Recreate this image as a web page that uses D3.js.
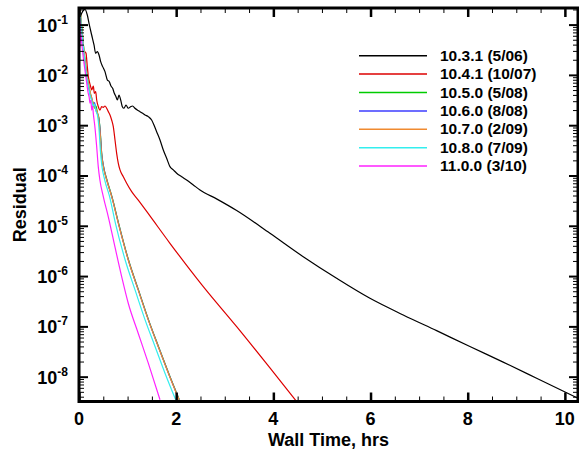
<!DOCTYPE html>
<html>
<head>
<meta charset="utf-8">
<script src="https://cdn.jsdelivr.net/npm/d3@7"></script>
<style>
  html, body { margin: 0; padding: 0; background: #fff; }
  svg { display: block; }
  text { font-family: "Liberation Sans", Arial, sans-serif; font-weight: bold; fill: #000; }
</style>
</head>
<body>
<svg id="chart" width="579" height="453"></svg>
<script>
// ---------------- DATA ----------------
const seriesNames = ["10.3.1 (5/06)", "10.4.1 (10/07)", "10.5.0 (5/08)", "10.6.0 (8/08)", "10.7.0 (2/09)", "10.8.0 (7/09)", "11.0.0 (3/10)"];
const seriesColors = ["#000000", "#dd0000", "#00cc00", "#3c3cff", "#f08a30", "#33eeee", "#ff22ff"];

const xTickValues = [0, 2, 4, 6, 8, 10];
const xMinorValues = [0.5, 1, 1.5, 2.5, 3, 3.5, 4.5, 5, 5.5, 6.5, 7, 7.5, 8.5, 9, 9.5];
const yTickExponents = [-1, -2, -3, -4, -5, -6, -7, -8];

// 10.3.1 (5/06)
const t1031 = [0.03,0.055,0.123,0.171,0.213,0.261,0.309,0.343,0.377,0.412,0.446,0.487,0.535,0.583,0.624,0.658,0.693,0.727,0.761,0.789,0.823,0.858,0.892,0.926,0.967,1.015,1.063,1.104,1.152,1.20,1.255,1.31,1.358,1.427,1.495,1.543,1.598,1.667,1.735,1.804,1.872,1.941,2.01,2.113,2.215,2.353,2.49,2.84,3.245,3.93,4.615,5.302,5.988,6.673,7.36,8.045,8.73,9.418,10.27];
const r1031 = [1.41e-1,1.68e-1,2.01e-1,1.55e-1,9.82e-2,6.21e-2,3.93e-2,2.69e-2,2.90e-2,2.49e-2,1.83e-2,1.46e-2,1.16e-2,7.93e-3,7.33e-3,6.01e-3,5.41e-3,4.31e-3,3.69e-3,3.17e-3,3.98e-3,3.17e-3,2.33e-3,2.17e-3,2.52e-3,2.17e-3,2.33e-3,2.41e-3,2.17e-3,2.00e-3,1.86e-3,1.72e-3,1.60e-3,1.48e-3,1.27e-3,1.01e-3,7.43e-4,5.08e-4,3.21e-4,2.20e-4,1.50e-4,1.29e-4,1.11e-4,9.46e-5,8.15e-5,6.47e-5,5.15e-5,3.39e-5,2.01e-5,7.10e-6,2.43e-6,9.04e-7,3.62e-7,1.69e-7,8.22e-8,3.98e-8,1.95e-8,9.33e-9,3.72e-9];

// 10.4.1 (10/07)
const t1041 = [0.123,0.144,0.171,0.192,0.213,0.24,0.261,0.295,0.315,0.343,0.364,0.398,0.432,0.466,0.50,0.535,0.569,0.603,0.638,0.672,0.706,0.741,0.775,0.809,0.844,0.912,0.981,1.084,1.22,1.46,1.872,2.558,3.245,3.93,4.50];
const r1041 = [2.89e-2,2.69e-2,1.46e-2,9.23e-3,7.33e-3,5.83e-3,5.01e-3,6.01e-3,4.31e-3,4.63e-3,3.17e-3,2.33e-3,2.00e-3,2.33e-3,2.27e-3,2.41e-3,2.17e-3,1.86e-3,1.60e-3,1.27e-3,9.33e-4,5.08e-4,2.76e-4,1.75e-4,1.29e-4,9.46e-5,7.00e-5,4.76e-5,3.24e-5,1.57e-5,4.49e-6,6.17e-7,9.86e-8,1.49e-8,3.02e-9];

// 10.5.0 (5/08)
const t1050 = [0.02,0.05,0.08,0.11,0.14,0.17,0.20,0.23,0.26,0.29,0.32,0.35,0.38,0.41,0.435,0.47,0.505,0.575,0.678,0.815,1.019,1.225,1.431,1.635,1.845,2.065];
const r1050 = [1.91e-1,1.00e-1,5.01e-2,2.51e-2,1.41e-2,8.91e-3,6.03e-3,4.47e-3,3.31e-3,2.82e-3,2.19e-3,2.40e-3,1.74e-3,1.38e-3,7.94e-4,2.51e-4,1.51e-4,8.13e-5,3.80e-5,1.12e-5,2.09e-6,5.25e-7,1.35e-7,3.98e-8,1.17e-8,3.47e-9];

// 10.6.0 (8/08)
const t1060 = [0.02,0.05,0.08,0.11,0.14,0.17,0.20,0.23,0.26,0.29,0.32,0.35,0.38,0.41,0.432,0.468,0.502,0.572,0.675,0.812,1.016,1.222,1.428,1.632,1.842,2.062];
const r1060 = [1.82e-1,8.91e-2,4.79e-2,2.40e-2,1.32e-2,8.32e-3,5.62e-3,4.17e-3,3.55e-3,2.51e-3,2.82e-3,2.00e-3,1.66e-3,1.32e-3,8.32e-4,2.63e-4,1.55e-4,8.13e-5,3.80e-5,1.12e-5,2.09e-6,5.25e-7,1.35e-7,3.98e-8,1.17e-8,3.47e-9];

// 10.7.0 (2/09)
const t1070 = [0.02,0.05,0.08,0.11,0.14,0.17,0.20,0.23,0.26,0.29,0.32,0.35,0.38,0.40,0.43,0.467,0.50,0.57,0.673,0.81,1.014,1.22,1.426,1.63,1.84,2.06];
const r1070 = [2.00e-1,1.05e-1,5.25e-2,2.63e-2,1.45e-2,9.12e-3,6.31e-3,4.57e-3,3.47e-3,2.75e-3,2.29e-3,2.09e-3,1.78e-3,1.48e-3,7.94e-4,2.51e-4,1.51e-4,8.13e-5,3.80e-5,1.12e-5,2.09e-6,5.25e-7,1.35e-7,3.98e-8,1.17e-8,3.47e-9];

// 10.8.0 (7/09)
const t1080 = [0.02,0.05,0.08,0.11,0.14,0.17,0.20,0.23,0.26,0.29,0.32,0.35,0.38,0.41,0.44,0.47,0.53,0.63,0.75,0.95,1.155,1.36,1.565,1.77,1.99];
const r1080 = [1.78e-1,8.91e-2,4.47e-2,2.24e-2,1.26e-2,7.94e-3,5.62e-3,3.80e-3,3.16e-3,2.40e-3,2.63e-3,1.91e-3,1.58e-3,8.91e-4,3.16e-4,1.58e-4,8.13e-5,3.80e-5,1.12e-5,2.09e-6,5.25e-7,1.35e-7,3.98e-8,1.17e-8,3.47e-9];

// 11.0.0 (3/10)
const t1100 = [0.005,0.01,0.015,0.02,0.025,0.03,0.04,0.06,0.10,0.145,0.185,0.21,0.226,0.245,0.26,0.28,0.294,0.33,0.364,0.397,0.43,0.50,0.603,0.74,0.878,1.014,1.22,1.426,1.667];
const r1100 = [2.00e-1,5.01e-2,1.41e-1,3.55e-2,1.12e-1,4.47e-2,6.31e-2,3.89e-2,1.82e-2,8.71e-3,4.57e-3,3.55e-3,2.75e-3,3.16e-3,2.00e-3,2.40e-3,1.74e-3,8.71e-4,3.72e-4,1.48e-4,8.13e-5,3.80e-5,1.51e-5,3.80e-6,9.77e-7,2.88e-7,7.24e-8,1.86e-8,3.47e-9];

const seriesTimes = [t1031, t1041, t1050, t1060, t1070, t1080, t1100];
const seriesResiduals = [r1031, r1041, r1050, r1060, r1070, r1080, r1100];

// ---------------- CHART ----------------
const svg = d3.select("#chart");
const pLeft = 79, pRight = 578, pTop = 8, pBottom = 401.5;

const x = d3.scaleLinear().domain([0, 10.27]).range([pLeft, pRight]);
const y = d3.scaleLog().domain([0.2138, 3.21e-9]).range([pTop, pBottom]);

svg.append("clipPath").attr("id", "plotclip")
  .append("rect").attr("x", pLeft).attr("y", pTop).attr("width", pRight - pLeft).attr("height", pBottom - pTop);

const line = d3.line().x(d => x(d[0])).y(d => y(d[1])).curve(d3.curveMonotoneX);

const gLines = svg.append("g").attr("clip-path", "url(#plotclip)");
seriesNames.forEach((name, i) => {
  const pts = seriesTimes[i].map((t, k) => [t, seriesResiduals[i][k]]);
  gLines.append("path")
    .datum(pts)
    .attr("fill", "none")
    .attr("stroke", seriesColors[i])
    .attr("stroke-width", 1.2)
    .attr("stroke-linejoin", "round")
    .attr("d", line);
});

// minor y values
const yMajor = yTickExponents.map(e => Math.pow(10, e));
const yMinor = [];
for (let e = -9; e <= -1; e++) {
  for (let m = 2; m <= 9; m++) {
    const v = m * Math.pow(10, e);
    if (v <= 0.2138 && v >= 3.21e-9) yMinor.push(v);
  }
}

function styleAxis(g, w) {
  g.select(".domain").remove();
  g.selectAll(".tick line").attr("stroke", "#000").attr("stroke-width", w);
  g.selectAll(".tick text").remove();
}

// Left axis ticks (inward)
svg.append("g").attr("transform", `translate(${pLeft},0)`)
  .call(d3.axisLeft(y).tickValues(yMinor).tickSize(-5).tickFormat(""))
  .call(g => styleAxis(g, 1));
svg.append("g").attr("transform", `translate(${pLeft},0)`)
  .call(d3.axisLeft(y).tickValues(yMajor).tickSize(-9).tickFormat(""))
  .call(g => styleAxis(g, 2));
// Right axis ticks (inward)
svg.append("g").attr("transform", `translate(${pRight},0)`)
  .call(d3.axisRight(y).tickValues(yMinor).tickSize(-5).tickFormat(""))
  .call(g => styleAxis(g, 1));
svg.append("g").attr("transform", `translate(${pRight},0)`)
  .call(d3.axisRight(y).tickValues(yMajor).tickSize(-9).tickFormat(""))
  .call(g => styleAxis(g, 2));
// Bottom ticks
svg.append("g").attr("transform", `translate(0,${pBottom})`)
  .call(d3.axisBottom(x).tickValues(xMinorValues).tickSize(-5).tickFormat(""))
  .call(g => styleAxis(g, 1));
svg.append("g").attr("transform", `translate(0,${pBottom})`)
  .call(d3.axisBottom(x).tickValues(xTickValues).tickSize(-9).tickFormat(""))
  .call(g => styleAxis(g, 2.5));
// Top ticks
svg.append("g").attr("transform", `translate(0,${pTop})`)
  .call(d3.axisTop(x).tickValues(xMinorValues).tickSize(-5).tickFormat(""))
  .call(g => styleAxis(g, 1));
svg.append("g").attr("transform", `translate(0,${pTop})`)
  .call(d3.axisTop(x).tickValues(xTickValues).tickSize(-9).tickFormat(""))
  .call(g => styleAxis(g, 2.5));

// Frame
svg.append("rect")
  .attr("x", pLeft).attr("y", pTop)
  .attr("width", pRight - pLeft).attr("height", pBottom - pTop)
  .attr("fill", "none").attr("stroke", "#000").attr("stroke-width", 3);

// Y tick labels with superscripts
yTickExponents.forEach(e => {
  const t = svg.append("text")
    .attr("x", 68).attr("y", y(Math.pow(10, e)) + 7)
    .attr("text-anchor", "end")
    .style("font-size", "18px");
  t.append("tspan").text("10");
  t.append("tspan").attr("dy", -8).style("font-size", "12px").text(String(e));
});

// X tick labels
xTickValues.forEach(v => {
  svg.append("text")
    .attr("x", x(v)).attr("y", 424.5)
    .attr("text-anchor", "middle")
    .style("font-size", "18px")
    .text(String(v));
});

// Axis titles
svg.append("text")
  .attr("x", (pLeft + pRight) / 2).attr("y", 445.5)
  .attr("text-anchor", "middle")
  .style("font-size", "18px")
  .text("Wall Time, hrs");

svg.append("text")
  .attr("transform", `translate(26,${(pTop + pBottom) / 2}) rotate(-90)`)
  .attr("text-anchor", "middle")
  .style("font-size", "18px")
  .text("Residual");

// Legend
const legend = svg.append("g");
seriesNames.forEach((name, i) => {
  const ly = 55.7 + i * 18.4;
  legend.append("line")
    .attr("x1", 359).attr("x2", 427).attr("y1", ly).attr("y2", ly)
    .attr("stroke", seriesColors[i]).attr("stroke-width", 1.5);
  legend.append("text")
    .attr("x", 440).attr("y", ly + 5)
    .style("font-size", "15.5px")
    .text(name);
});
</script>
</body>
</html>
